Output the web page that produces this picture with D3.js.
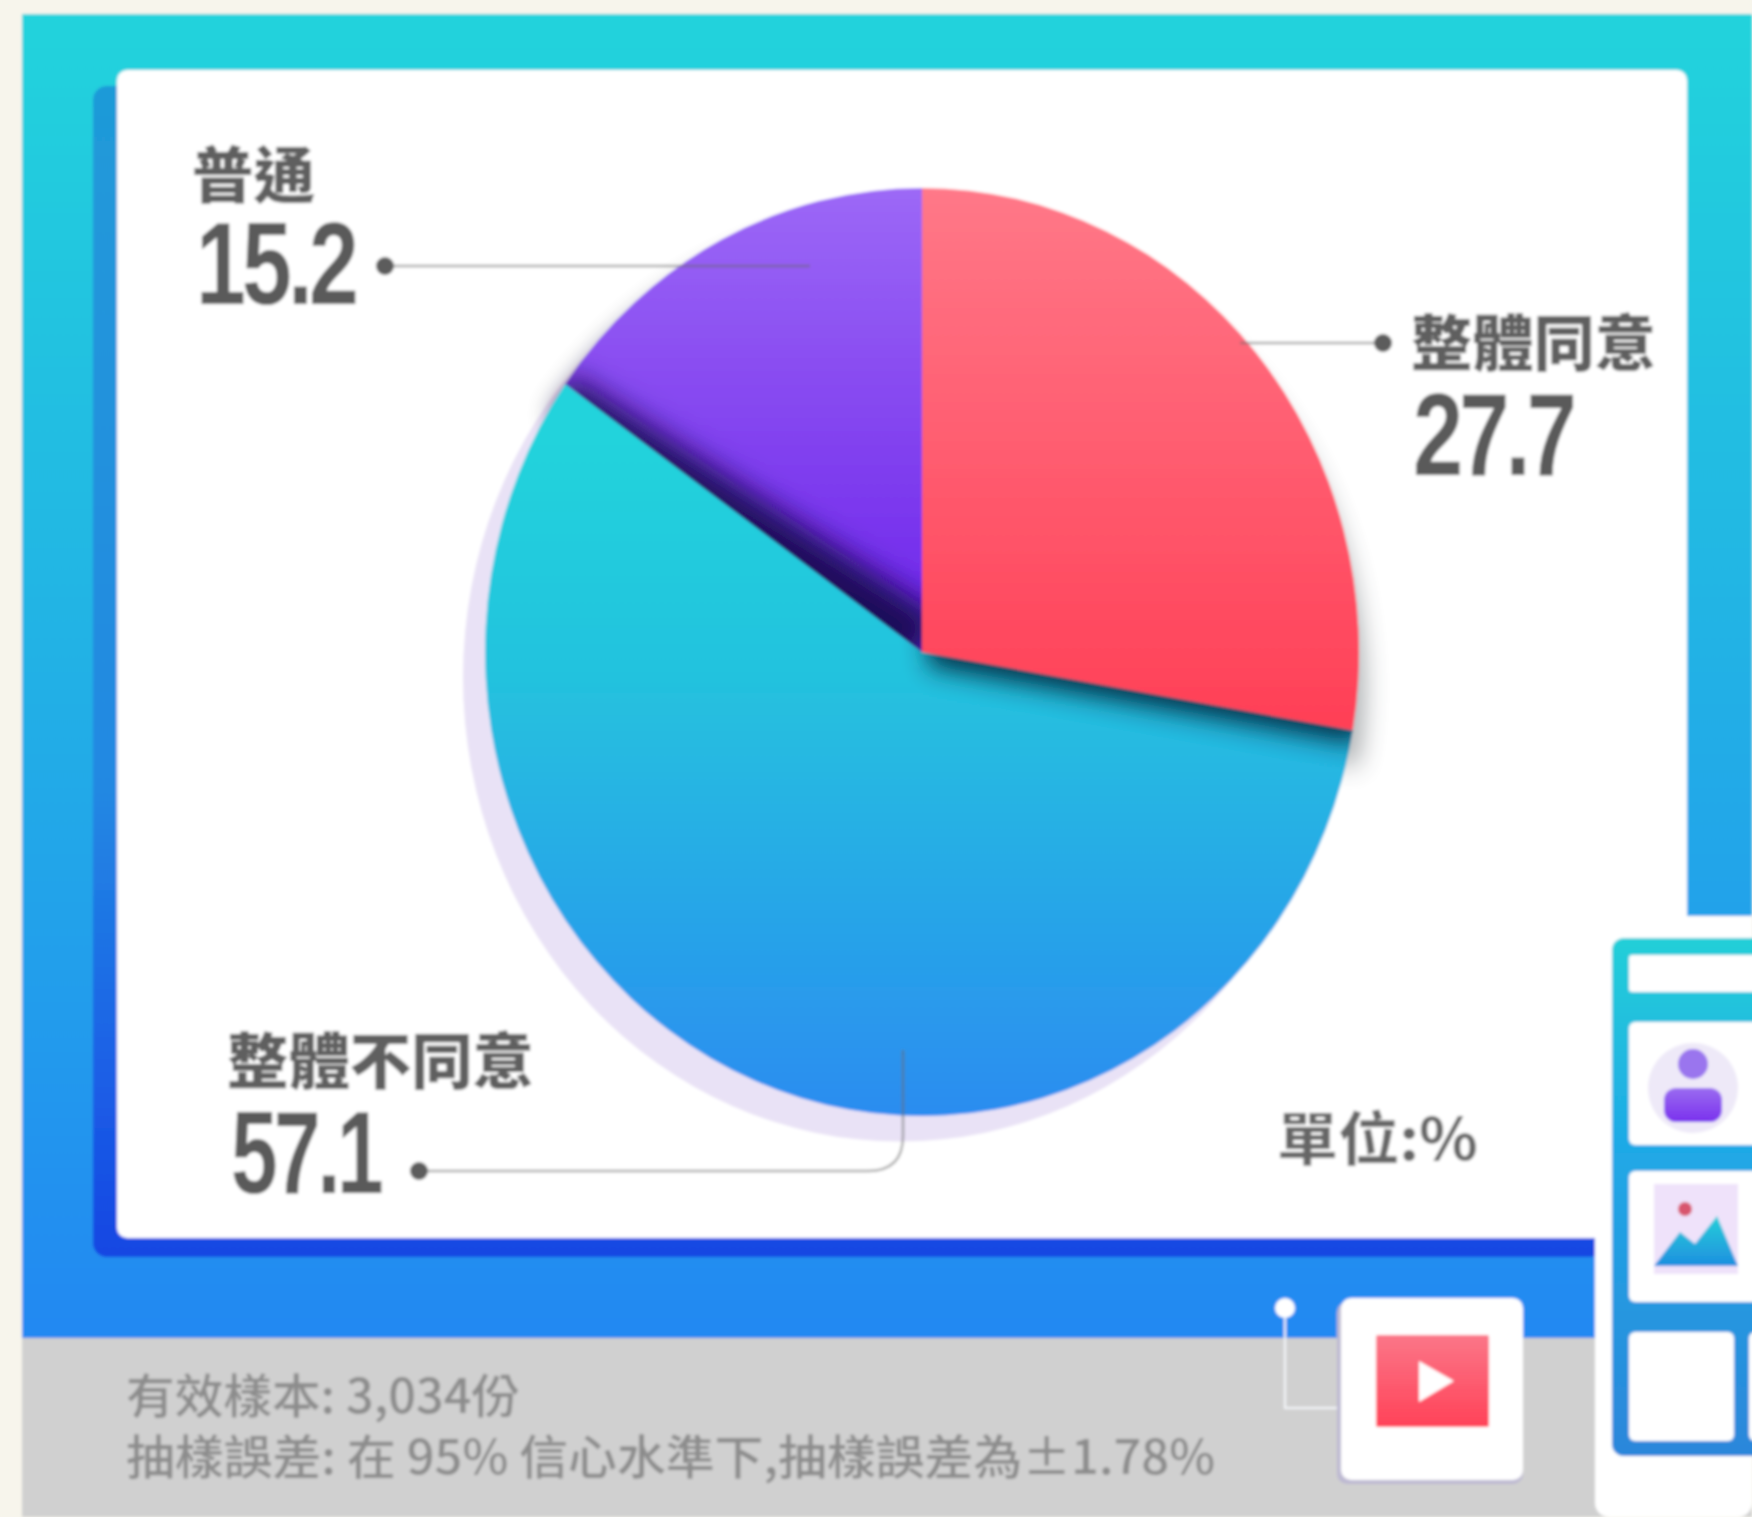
<!DOCTYPE html>
<html>
<head>
<meta charset="utf-8">
<script src="https://cdn.jsdelivr.net/npm/d3@7"></script>
<style>
  html, body { margin: 0; padding: 0; background: #f7f5ec; }
  svg { display: block; }
  text { font-family: "Noto Sans CJK TC", "Noto Sans", sans-serif; }
  text.val { font-family: "Liberation Sans Narrow", "Liberation Sans", sans-serif; letter-spacing: -5px; }
</style>
</head>
<body>
<div id="visualisation"></div>
<script>
var categories = ["整體同意", "整體不同意", "普通"]
var values = [27.7, 57.1, 15.2]
var noteLines = ["有效樣本: 3,034份", "抽樣誤差: 在 95% 信心水準下,抽樣誤差為±1.78%"]
var unitLabel = "單位:%"

var width = 1752, height = 1517

var svg = d3.select("#visualisation")
	.append("svg")
	.attr("width", width)
	.attr("height", height)

var defs = svg.append("defs")

function addGradient(id, stops, x1, y1, x2, y2, userSpace)
{
	var g = defs.append("linearGradient")
		.attr("id", id)
		.attr("x1", x1).attr("y1", y1)
		.attr("x2", x2).attr("y2", y2)
	if(userSpace) g.attr("gradientUnits", "userSpaceOnUse")
	stops.forEach(function(s){
		g.append("stop").attr("offset", s[0]).attr("stop-color", s[1])
	})
}

addGradient("panelGrad", [[0, "#22d3dc"], [0.45, "#22b4e4"], [1, "#2188f2"]], 0, 0, 0, 1)
addGradient("widgetGrad", [[0, "#20cfd8"], [0.4, "#1fa9e6"], [1, "#2b86da"]], 0, 0, 0, 1)
addGradient("backGrad", [[0, "#1f9ad8"], [0.6, "#2288e2"], [0.85, "#1a5ee6"], [1, "#1746e2"]], 0, 0, 0, 1)
addGradient("playGrad", [[0, "#fb7688"], [1, "#ff4258"]], 0, 0, 0, 1)
addGradient("iconGrad", [[0, "#9a6cf0"], [1, "#7a30ee"]], 0, 0, 0, 1)
addGradient("hillGrad", [[0, "#20cfd8"], [1, "#1f8fe0"]], 0, 0, 0, 1)

// one fill per slice, same order as categories
var sliceFills = ["sliceRed", "sliceBlue", "slicePurple"]
var r = 437, squash = 1.062
addGradient("sliceRed", [[0, "#ff7888"], [1, "#ff3e55"]], 0, -r, 0, 80, true)
addGradient("sliceBlue", [[0, "#22d3dc"], [0.35, "#24c2de"], [1, "#2a8cf0"]], 0, -200, 0, r, true)
addGradient("slicePurple", [[0, "#9c68f6"], [1, "#6c22ea"]], 0, -r, 0, 0, true)

function addBlur(id, dev, margin)
{
	defs.append("filter").attr("id", id)
		.attr("x", -margin + "%").attr("y", -margin + "%")
		.attr("width", 100 + 2 * margin + "%").attr("height", 100 + 2 * margin + "%")
		.append("feGaussianBlur").attr("stdDeviation", dev)
}
addBlur("soft", 1.4, 1)
addBlur("shadow", 12, 20)
addBlur("edge", 14, 50)
addBlur("thin", 3, 200)

var root = svg.append("g").attr("filter", "url(#soft)")

function box(parent, x, y, w, h, fill, rx)
{
	return parent.append("rect")
		.attr("x", x).attr("y", y)
		.attr("width", w).attr("height", h)
		.attr("rx", rx || 0)
		.attr("fill", fill)
}

// page and panels
box(root, 0, 0, width, height, "#f7f5ec")
box(root, 22, 14, width - 22, 1324, "url(#panelGrad)")
box(root, 22, 1338, width - 22, height - 1338, "#d0d0d0")
box(root, 93, 86, 1510, 1171, "url(#backGrad)", 14)
box(root, 117, 70, 1570, 1168, "#ffffff", 10)
box(root, 1595, 1000, 157, height - 1000, "#ffffff", 14)
box(root, 1595, 916, 157, 200, "#ffffff")
box(root, 1480, 916, 207, 322, "#ffffff")

// pie
var pie = d3.pie().sort(null).value(function(d){return d;})
var arc = d3.arc().innerRadius(0).outerRadius(r)
var arcs = pie(values)

var pieG = root.append("g")
	.attr("transform", "translate(922,652) scale(1," + squash + ")")

pieG.append("circle")
	.attr("cx", -22).attr("cy", 24).attr("r", r)
	.attr("fill", "#e9e2f6")

// grey halo on the white, below the purple corner
pieG.append("path")
	.attr("d", arc(arcs[2]))
	.attr("fill", "#1c1030")
	.attr("opacity", 0.72)
	.attr("transform", "translate(-16,30)")
	.attr("filter", "url(#shadow)")

// faint halo right of the red slice, lower half only
pieG.append("path")
	.attr("d", arc(arcs[0]))
	.attr("fill", "#2a3038")
	.attr("opacity", 0.38)
	.attr("transform", "translate(6,34)")
	.attr("filter", "url(#shadow)")

pieG.append("path")
	.attr("d", arc(arcs[1]))
	.attr("fill", "url(#" + sliceFills[1] + ")")

// red slice throws a dark teal shadow on the blue one
defs.append("clipPath").attr("id", "blueClip")
	.append("path").attr("d", arc(arcs[1]))

pieG.append("g")
	.attr("clip-path", "url(#blueClip)")
	.append("path")
	.attr("d", arc(arcs[0]))
	.attr("fill", "#03283e")
	.attr("opacity", 0.95)
	.attr("transform", "translate(6,13)")
	.attr("filter", "url(#shadow)")

pieG.selectAll(".slice")
	.data([arcs[0], arcs[2]])
	.enter()
	.append("path")
	.attr("class", "slice")
	.attr("d", arc)
	.attr("fill", function(d){return "url(#" + sliceFills[d.index] + ")";})

// dark edges inside the purple slice, clipped to it
defs.append("clipPath").attr("id", "purpleClip")
	.append("path").attr("d", arc(arcs[2]))

var corner = d3.pointRadial(arcs[2].startAngle, r)
var inward = d3.pointRadial(arcs[2].startAngle + Math.PI / 2, 1)
var band = pieG.append("g").attr("clip-path", "url(#purpleClip)")
band.append("path")
	.attr("d", d3.line()([
		[corner[0] - inward[0] * 24, corner[1] - inward[1] * 24],
		[corner[0] + inward[0] * 10, corner[1] + inward[1] * 10],
		[inward[0] * 38, inward[1] * 38],
		[-inward[0] * 24, -inward[1] * 24]
	]) + "Z")
	.attr("fill", "#1a0858")
	.attr("filter", "url(#edge)")
band.append("path")
	.attr("d", d3.line()([[-3, -r], [-3, 0]]))
	.attr("stroke", "#4a12a8")
	.attr("stroke-width", 8)
	.attr("stroke-opacity", 0.6)
	.attr("filter", "url(#thin)")

// leader lines
var leaders = [
	"M1383,343 H1240",
	"M419,1171 H868 Q903,1171 903,1136 V1050",
	"M385,266 H810"
]
root.selectAll(".leader")
	.data(leaders)
	.enter()
	.append("path")
	.attr("class", "leader")
	.attr("d", function(d){return d;})
	.attr("fill", "none")
	.attr("stroke", "#6a6a6a")
	.attr("stroke-opacity", 0.55)
	.attr("stroke-width", 2.5)

var dots = [[1383, 343], [419, 1171], [385, 266]]
root.selectAll(".dot")
	.data(dots)
	.enter()
	.append("circle")
	.attr("class", "dot")
	.attr("cx", function(d){return d[0];})
	.attr("cy", function(d){return d[1];})
	.attr("r", 9)
	.attr("fill", "#5c5c5c")

// labels, same order as categories
var labelPos = [[1411, 366, 245], [227, 1084, 307], [192, 198, 123]]
var valuePos = [[1413, 475, 160], [231, 1193, 149], [196, 304, 159]]

root.selectAll(".cat")
	.data(categories)
	.enter()
	.append("text")
	.attr("class", "cat")
	.attr("x", function(d, i){return labelPos[i][0];})
	.attr("y", function(d, i){return labelPos[i][1];})
	.attr("textLength", function(d, i){return labelPos[i][2];})
	.attr("lengthAdjust", "spacingAndGlyphs")
	.attr("font-size", 61)
	.attr("font-weight", 900)
	.attr("fill", "#5f5f5f")
	.text(function(d){return d;})

root.selectAll(".val")
	.data(values)
	.enter()
	.append("text")
	.attr("class", "val")
	.attr("x", function(d, i){return valuePos[i][0];})
	.attr("y", function(d, i){return valuePos[i][1];})
	.attr("textLength", function(d, i){return valuePos[i][2];})
	.attr("lengthAdjust", "spacingAndGlyphs")
	.attr("font-size", 116)
	.attr("font-weight", 700)
	.attr("fill", "#5a5a5a")
	.text(function(d){return d3.format(".1f")(d);})

root.append("text")
	.attr("x", 1277).attr("y", 1160)
	.attr("textLength", 201)
	.attr("lengthAdjust", "spacingAndGlyphs")
	.attr("font-size", 58)
	.attr("font-weight", 700)
	.attr("fill", "#666666")
	.text(unitLabel)

root.selectAll(".note")
	.data(noteLines)
	.enter()
	.append("text")
	.attr("class", "note")
	.attr("x", 126)
	.attr("y", function(d, i){return 1413 + i * 61;})
	.attr("textLength", function(d, i){return i == 0 ? 394 : 1089;})
	.attr("lengthAdjust", "spacingAndGlyphs")
	.attr("font-size", 47)
	.attr("font-weight", 500)
	.attr("fill", "#8c8c8c")
	.text(function(d){return d;})

// decoration: play card
root.append("path")
	.attr("d", "M1285,1308 V1408 H1345")
	.attr("fill", "none")
	.attr("stroke", "#f4f6fa")
	.attr("stroke-width", 2)
root.append("circle").attr("cx", 1285).attr("cy", 1308).attr("r", 10).attr("fill", "#ffffff")
box(root, 1337, 1302, 186, 182, "#bdb9d2", 10)
box(root, 1341, 1298, 182, 182, "#ffffff", 10)
box(root, 1376, 1335, 113, 92, "url(#playGrad)", 2)
root.append("path").attr("d", "M1419,1361 L1454,1381 L1419,1402 Z").attr("fill", "#ffffff")

// decoration: side widget
box(root, 1612, 938, 160, 518, "url(#widgetGrad)", 12)
box(root, 1629, 955, 140, 37, "#ffffff", 3)
box(root, 1629, 1022, 140, 123, "#ffffff", 6)
box(root, 1629, 1171, 140, 131, "#ffffff", 6)
box(root, 1629, 1332, 105, 109, "#ffffff", 6)
box(root, 1749, 1332, 20, 109, "#ffffff", 6)

root.append("circle").attr("cx", 1693).attr("cy", 1088).attr("r", 45).attr("fill", "#eee9f8")
root.append("circle").attr("cx", 1693).attr("cy", 1064).attr("r", 15).attr("fill", "#9a74ee")
box(root, 1664, 1088, 58, 34, "url(#iconGrad)", 12)

box(root, 1654, 1184, 84, 90, "#efe2fa")
root.append("circle").attr("cx", 1685).attr("cy", 1209).attr("r", 7).attr("fill", "#d8566e")
root.append("path").attr("d", "M1654,1266 L1680,1232 L1695,1244 L1717,1216 L1738,1266 Z").attr("fill", "url(#hillGrad)")
</script>
</body>
</html>
